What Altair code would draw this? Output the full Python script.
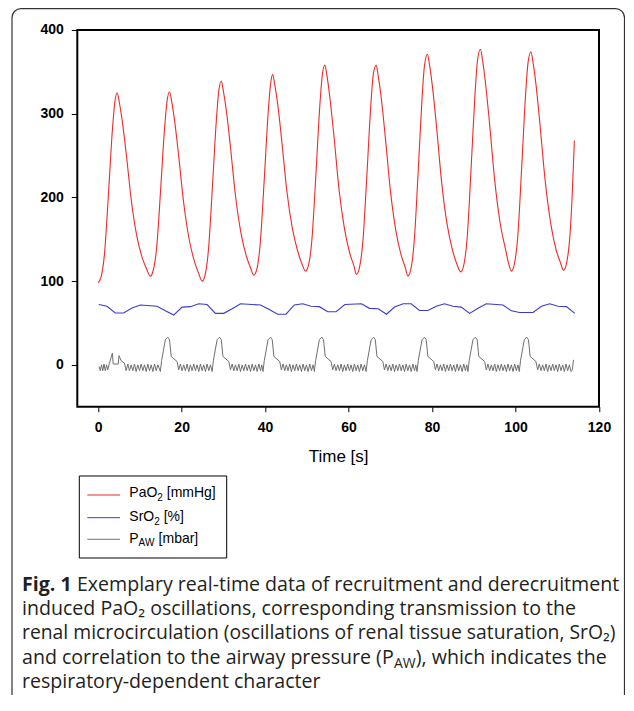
import altair as alt
import pandas as pd

# ---------------- data ----------------
pao2_t = [0.0, 0.7, 1.5, 2.5, 3.4, 4.0, 4.55, 5.05, 5.75, 6.75, 7.95, 9.25, 10.55, 11.55, 12.5,
          13.2, 14.0, 15.0, 15.9, 16.5, 17.1, 17.6, 18.3, 19.3, 20.5, 21.8, 23.1, 24.1, 24.9,
          25.6, 26.4, 27.4, 28.3, 28.9, 29.5, 30.0, 30.7, 31.7, 32.9, 34.2, 35.5, 36.5, 37.3,
          38.0, 38.8, 39.8, 40.7, 41.3, 41.8, 42.3, 43.0, 44.0, 45.2, 46.5, 47.8, 48.8, 49.7,
          50.4, 51.2, 52.2, 53.1, 53.7, 54.3, 54.8, 55.5, 56.5, 57.7, 59.0, 60.3, 61.3, 61.9,
          62.6, 63.4, 64.4, 65.3, 65.9, 66.6, 67.1, 67.8, 68.8, 70.0, 71.3, 72.6, 73.6, 74.2,
          74.9, 75.7, 76.7, 77.6, 78.2, 78.9, 79.4, 80.1, 81.1, 82.3, 83.6, 84.9, 85.9, 86.9,
          87.6, 88.4, 89.4, 90.3, 90.9, 91.6, 92.1, 92.8, 93.8, 95.0, 96.3, 97.6, 98.3, 99.0,
          99.7, 100.5, 101.5, 102.4, 103.0, 103.7, 104.2, 104.9, 105.9, 107.1, 108.4, 109.7, 110.7, 111.5,
          112.2, 113.0, 113.6, 114.1]
pao2_v = [98, 105, 132, 207, 280, 314, 325, 314, 292, 251, 196, 154, 128, 115, 106,
          113, 139, 212, 282, 315, 326, 315, 292, 249, 193, 150, 123, 109, 100,
          107, 136, 215, 291, 327, 339, 327, 304, 260, 202, 158, 130, 116, 107,
          114, 143, 222, 299, 335, 347, 335, 312, 267, 208, 164, 136, 121, 112,
          119, 149, 230, 309, 346, 358, 346, 320, 273, 210, 163, 133, 118, 108,
          116, 146, 228, 308, 346, 358, 345, 320, 272, 209, 161, 131, 116, 106,
          114, 146, 233, 318, 358, 371, 358, 332, 283, 218, 168, 137, 121, 111,
          119, 151, 239, 324, 364, 377, 364, 337, 287, 221, 170, 138, 122, 112,
          120, 151, 238, 322, 361, 374, 361, 335, 285, 220, 170, 138, 123, 113,
          121, 152, 205, 268]

sro2_t = [0.15, 2.1, 4.1, 6.1, 8.1, 10.1, 14.1, 16.1, 18.1, 20.1, 22.1, 24.1, 26.1, 28.1,
          30.1, 32.1, 34.1, 38.9, 40.9, 43.0, 45.0, 47.0, 49.0, 51.0, 53.0, 55.0, 57.0, 59.1,
          63.1, 65.0, 67.1, 69.1, 71.0, 73.1, 75.0, 77.0, 79.0, 81.0, 83.0, 85.0, 87.0, 89.0,
          91.0, 93.0, 97.0, 99.0, 101.0, 104.2, 106.2, 108.2, 110.2, 112.2, 114.2]
sro2_v = [72, 70, 62, 62, 68, 71.5, 70, 64.5, 59.5, 69, 69.5, 73, 72, 61.5,
          61.5, 67, 73, 71.5, 66.5, 60.5, 60.5, 71.5, 73, 70, 69.5, 63.5, 63.5, 72,
          73, 67.5, 67, 60.5, 69, 73, 73, 65, 65, 70, 73, 70, 69, 61.5,
          67.5, 73, 71.5, 64.5, 62.5, 62.5, 70, 73, 70, 69.5, 61.5]

paw_points = [
    (0.2, -2), (0.5, -7), (0.8, 0), (1.1, -7), (1.4, 1), (1.7, -7), (2.0, 0), (2.3, -6), (2.7, 2),
    (3.4, 14), (3.6, 1), (4.8, 1), (5.0, 11), (5.5, 5), (6.3, 2),
    (6.7, -7), (7.1, 1), (7.5, -7), (7.9, 0), (8.3, -7), (8.7, 1), (9.1, -8), (9.5, 0), (9.9, -7),
    (10.3, 1), (10.7, -7), (11.1, 0), (11.5, -8), (11.9, 1), (12.3, -7), (12.7, 0), (13.1, -8),
    (13.5, 1), (13.9, -7), (14.3, 0), (14.9, -8),
    (15.2, 5), (16.1, 30), (16.7, 33), (17.1, 30), (17.5, 10), (18.9, 4),
    (19.3, -6), (19.7, 1), (20.1, -7), (20.5, 0), (20.9, -7), (21.3, 1), (21.7, -8), (22.1, 0),
    (22.5, -7), (22.9, 1), (23.3, -7), (23.7, 0), (24.1, -8), (24.5, 1), (24.9, -7), (25.3, 0),
    (25.7, -8), (26.1, 1), (26.5, -7), (26.9, 0), (27.3, -8),
    (27.6, 5), (28.5, 30), (29.1, 33), (29.5, 30), (29.9, 10), (31.3, 4),
    (31.7, -6), (32.1, 1), (32.5, -7), (32.9, 0), (33.3, -7), (33.7, 1), (34.1, -8), (34.5, 0),
    (34.9, -7), (35.3, 1), (35.7, -7), (36.1, 0), (36.5, -8), (36.9, 1), (37.3, -7), (37.7, 0),
    (38.1, -8), (38.5, 1), (38.9, -7), (39.2, 0), (39.5, -8),
    (39.8, 5), (40.7, 30), (41.3, 33), (41.7, 30), (42.1, 10), (43.5, 4),
    (43.9, -6), (44.3, 1), (44.7, -7), (45.1, 0), (45.5, -7), (45.9, 1), (46.3, -8), (46.7, 0),
    (47.1, -7), (47.5, 1), (47.9, -7), (48.3, 0), (48.7, -8), (49.1, 1), (49.5, -7), (49.9, 0),
    (50.3, -8), (50.7, 1), (51.1, -7), (51.5, 0), (51.8, -8),
    (52.1, 5), (53.0, 30), (53.6, 33), (54.0, 30), (54.4, 10), (55.8, 4),
    (56.2, -6), (56.6, 1), (57.0, -7), (57.4, 0), (57.8, -7), (58.2, 1), (58.6, -8), (59.0, 0),
    (59.4, -7), (59.8, 1), (60.2, -7), (60.6, 0), (61.0, -8), (61.4, 1), (61.8, -7), (62.2, 0),
    (62.6, -8), (63.0, 1), (63.4, -7), (63.8, 0), (64.2, -8),
    (64.5, 5), (65.4, 30), (66.0, 33), (66.4, 30), (66.8, 10), (68.2, 4),
    (68.6, -6), (69.0, 1), (69.4, -7), (69.8, 0), (70.2, -7), (70.6, 1), (71.0, -8), (71.4, 0),
    (71.8, -7), (72.2, 1), (72.6, -7), (73.0, 0), (73.4, -8), (73.8, 1), (74.2, -7), (74.6, 0),
    (75.0, -8), (75.4, 1), (75.8, -7), (76.1, 0), (76.4, -8),
    (76.7, 5), (77.6, 30), (78.2, 33), (78.6, 30), (79.0, 10), (80.4, 4),
    (80.8, -6), (81.2, 1), (81.6, -7), (82.0, 0), (82.4, -7), (82.8, 1), (83.2, -8), (83.6, 0),
    (84.0, -7), (84.4, 1), (84.8, -7), (85.2, 0), (85.6, -8), (86.0, 1), (86.4, -7), (86.8, 0),
    (87.2, -8), (87.6, 1), (88.0, -7), (88.3, 0), (88.6, -8),
    (88.9, 5), (89.8, 30), (90.4, 33), (90.8, 30), (91.2, 10), (92.6, 4),
    (93.0, -6), (93.4, 1), (93.8, -7), (94.2, 0), (94.6, -7), (95.0, 1), (95.4, -8), (95.8, 0),
    (96.2, -7), (96.6, 1), (97.0, -7), (97.4, 0), (97.8, -8), (98.2, 1), (98.6, -7), (99.0, 0),
    (99.4, -8), (99.8, 1), (100.2, -7), (100.6, 0), (100.9, -8),
    (101.2, 5), (102.1, 30), (102.7, 33), (103.1, 30), (103.5, 10), (104.9, 4),
    (105.3, -6), (105.7, 1), (106.1, -7), (106.5, 0), (106.9, -7), (107.3, 1), (107.7, -8), (108.1, 0),
    (108.5, -7), (108.9, 1), (109.3, -7), (109.7, 0), (110.1, -8), (110.5, 1), (110.9, -7), (111.3, 0),
    (111.7, -8), (112.1, 1), (112.5, -7), (112.9, 0), (113.3, -8), (113.6, -6), (113.9, 6),
]

x_ticks = [0, 20, 40, 60, 80, 100, 120]
y_ticks = [0, 100, 200, 300, 400]

colors = {"PaO2": "#ee2a2a", "SrO2": "#3a3ad0", "PAW": "#6e6e6e"}

caption_line1_bold = "Fig. 1"
caption_line1 = "Exemplary real-time data of recruitment and derecruitment"
caption_line2 = "induced PaO\u2082 oscillations, corresponding transmission to the"
caption_line3 = "renal microcirculation (oscillations of renal tissue saturation, SrO\u2082)"
caption_line4a = "and correlation to the airway pressure (P"
caption_line4sub = "AW"
caption_line4b = "), which indicates the"
caption_line5 = "respiratory-dependent character"

# ---------------- frames ----------------
df_pao2 = pd.DataFrame({"t": pao2_t, "v": pao2_v})
df_sro2 = pd.DataFrame({"t": sro2_t, "v": sro2_v})
df_paw = pd.DataFrame({"t": [p[0] for p in paw_points], "v": [p[1] for p in paw_points]})

AX = "Liberation Sans"
X = alt.X("t:Q", scale=alt.Scale(domain=[-5, 120], nice=False, zero=False),
          axis=alt.Axis(values=x_ticks, title="Time [s]", grid=False, domain=False,
                        tickSize=5, tickColor="black", tickWidth=1, labelPadding=9,
                        labelFont=AX, labelFontSize=14, labelFontWeight="bold",
                        labelColor="black", labelFlush=False,
                        titleFont=AX, titleFontSize=17, titleFontWeight="normal",
                        titleColor="black", titleBaseline="alphabetic", titleY=55))
Y = alt.Y("v:Q", scale=alt.Scale(domain=[-50, 400], nice=False, zero=False),
          axis=alt.Axis(values=y_ticks, title=None, grid=False, domain=False,
                        tickSize=6, tickColor="black", tickWidth=1, labelPadding=8,
                        labelFont=AX, labelFontSize=14, labelFontWeight="bold",
                        labelColor="black", labelFlush=False))

red = alt.Chart(df_pao2).mark_line(color=colors["PaO2"], strokeWidth=1.1,
                                   interpolate="monotone").encode(x=X, y=Y)
blue = alt.Chart(df_sro2).mark_line(color=colors["SrO2"], strokeWidth=1.1).encode(x=X, y=Y)
gray = alt.Chart(df_paw).mark_line(color=colors["PAW"], strokeWidth=1).encode(x=X, y=Y)

one = alt.Data(values=[{"k": 0}])


def txt(s, x, y, size, weight="normal", font=AX, color="black"):
    return alt.Chart(one).mark_text(align="left", baseline="alphabetic", font=font,
                                    fontSize=size, fontWeight=weight, color=color).encode(
        x=alt.value(x), y=alt.value(y), text=alt.value(s))


def hline(x1, x2, y, color):
    return alt.Chart(one).mark_rule(color=color, strokeWidth=1).encode(
        x=alt.value(x1), x2=alt.value(x2), y=alt.value(y))


border = alt.Chart(one).mark_rect(fillOpacity=0, stroke="#333333", strokeWidth=1.2,
                                  cornerRadius=9).encode(
    x=alt.value(-65.3), x2=alt.value(547.2), y=alt.value(-21.4), y2=alt.value(700))

legend_box = alt.Chart(one).mark_rect(fillOpacity=0, stroke="black", strokeWidth=1).encode(
    x=alt.value(2), x2=alt.value(149.4), y=alt.value(446), y2=alt.value(528))

legend = [
    legend_box,
    hline(10, 42.7, 465, colors["PaO2"]),
    hline(10, 42.7, 487.7, colors["SrO2"]),
    hline(10, 42.7, 509.3, colors["PAW"]),
    txt("PaO", 52, 467.5, 14), txt("2", 80.0, 471.5, 10), txt("[mmHg]", 89.5, 467.5, 14),
    txt("SrO", 52, 490.7, 14), txt("2", 76.9, 494.7, 10), txt("[%]", 86.4, 490.7, 14),
    txt("P", 52, 512.7, 14), txt("AW", 61.3, 516.2, 10), txt("[mbar]", 81.3, 512.7, 14),
]

CF = "Open Sans"
CS = 19.6
CC = "#231f20"
cx = -55.3
caption = [
    txt(caption_line1_bold, cx, 561, CS, "bold", CF, CC),
    txt(caption_line1, -0.4, 561, CS, "normal", CF, CC),
    txt(caption_line2, cx, 585.2, CS, "normal", CF, CC),
    txt(caption_line3, cx, 609.4, 19.35, "normal", CF, CC),
    txt(caption_line4a, cx, 633.6, CS, "normal", CF, CC),
    txt(caption_line4sub, 316.6, 638.3, 14, "normal", CF, CC),
    txt(caption_line4b, 338.5, 633.6, CS, "normal", CF, CC),
    txt(caption_line5, cx, 657.6, CS, "normal", CF, CC),
]

chart = alt.layer(red, blue, gray, border, *legend, *caption).properties(
    width=521.7, height=376.7,
    padding={"left": 69.3, "top": 22, "right": 26, "bottom": 288},
    autosize=alt.AutoSizeParams(type="none"),
).configure(background="white").configure_view(stroke="black", strokeWidth=2)

chart.save("out.html", embed_options={"renderer": "svg", "actions": False})
